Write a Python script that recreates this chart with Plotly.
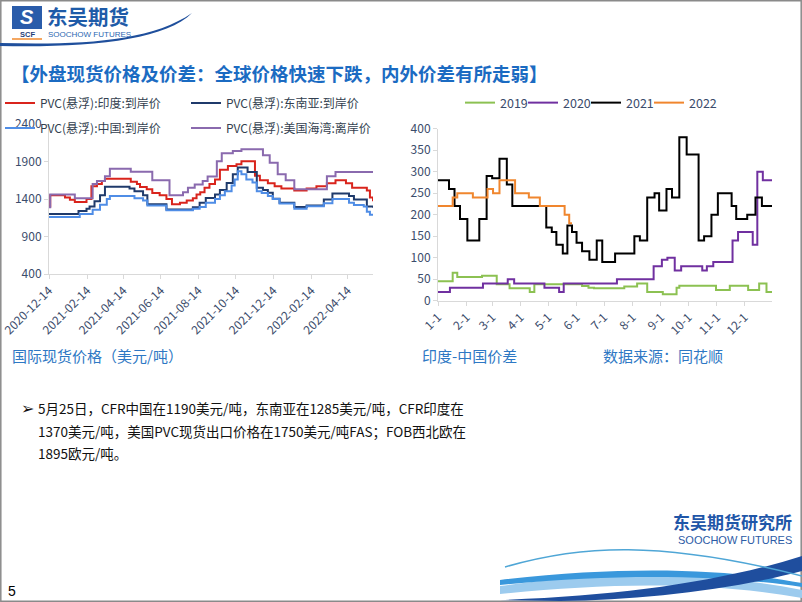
import plotly.graph_objects as go
import pandas as pd

# ---------------- left chart: international spot prices (USD/t) ----------------
india_dates = ["2020-12-14", "2020-12-16", "2021-01-09", "2021-01-17", "2021-01-25", "2021-02-13",
               "2021-02-21", "2021-03-02", "2021-03-10", "2021-03-15", "2021-04-26", "2021-05-06",
               "2021-05-11", "2021-05-22", "2021-05-31", "2021-06-12", "2021-06-23", "2021-07-02",
               "2021-07-15", "2021-07-26", "2021-08-05", "2021-08-11", "2021-08-17", "2021-08-24",
               "2021-09-01", "2021-09-10", "2021-09-18", "2021-10-01", "2021-10-15", "2021-10-23",
               "2021-11-14", "2021-11-22", "2021-12-05", "2021-12-16", "2021-12-27", "2022-01-17",
               "2022-02-06", "2022-02-22", "2022-03-11", "2022-03-25", "2022-04-11", "2022-04-21",
               "2022-05-15", "2022-05-20", "2022-05-25"]
india_vals = [1300, 1450, 1420, 1390, 1360, 1400, 1570, 1600, 1640, 1670, 1630, 1600, 1560, 1530,
              1480, 1450, 1400, 1330, 1350, 1380, 1410, 1460, 1490, 1550, 1600, 1660, 1790, 1840,
              1865, 1905, 1710, 1650, 1610, 1570, 1540, 1515, 1540, 1570, 1610, 1650, 1610, 1550,
              1515, 1420, 1370]

sea_dates = ["2020-12-14", "2021-01-31", "2021-02-13", "2021-02-18", "2021-02-26", "2021-03-07",
             "2021-03-15", "2021-04-24", "2021-05-02", "2021-05-16", "2021-05-23", "2021-06-23",
             "2021-08-05", "2021-08-16", "2021-08-26", "2021-09-10", "2021-09-18", "2021-09-29",
             "2021-10-09", "2021-10-17", "2021-11-02", "2021-11-17", "2021-11-27", "2021-12-05",
             "2021-12-13", "2021-12-24", "2022-01-17", "2022-02-06", "2022-03-06", "2022-03-20",
             "2022-04-16", "2022-04-24", "2022-05-15", "2022-05-25"]
sea_vals = [1200, 1240, 1270, 1300, 1370, 1450, 1565, 1540, 1505, 1450, 1330, 1260, 1290, 1350,
            1415, 1460, 1520, 1615, 1730, 1820, 1760, 1550, 1520, 1485, 1405, 1350, 1295, 1315,
            1395, 1475, 1440, 1395, 1300, 1285]

china_dates = ["2020-12-14", "2021-02-02", "2021-02-23", "2021-03-07", "2021-03-18", "2021-03-23",
               "2021-05-02", "2021-05-16", "2021-05-23", "2021-06-23", "2021-08-05", "2021-08-16",
               "2021-08-26", "2021-09-10", "2021-09-18", "2021-09-26", "2021-10-07", "2021-10-12",
               "2021-10-17", "2021-10-23", "2021-10-31", "2021-11-10", "2021-11-17", "2021-11-25",
               "2021-12-05", "2021-12-13", "2021-12-24", "2022-01-17", "2022-02-06", "2022-03-06",
               "2022-03-20", "2022-04-16", "2022-04-24", "2022-05-10", "2022-05-15", "2022-05-20",
               "2022-05-25"]
china_vals = [1160, 1200, 1255, 1325, 1400, 1440, 1410, 1380, 1315, 1250, 1270, 1295, 1350, 1400,
              1450, 1505, 1580, 1660, 1770, 1730, 1660, 1620, 1505, 1480, 1440, 1400, 1340, 1270,
              1305, 1345, 1400, 1350, 1320, 1300, 1230, 1190, 1190]

us_dates = ["2020-12-14", "2020-12-16", "2021-01-25", "2021-02-23", "2021-03-02", "2021-03-15",
            "2021-03-23", "2021-04-26", "2021-05-31", "2021-06-28", "2021-07-20", "2021-07-28",
            "2021-08-08", "2021-08-21", "2021-08-29", "2021-09-13", "2021-09-21", "2021-10-09",
            "2021-10-23", "2021-11-27", "2021-12-08", "2021-12-21", "2022-01-03", "2022-01-17",
            "2022-03-11", "2022-03-25", "2022-05-25"]
us_vals = [1290, 1460, 1410, 1600, 1640, 1705, 1805, 1765, 1650, 1450, 1490, 1550, 1595, 1640,
           1700, 1905, 2010, 2040, 2065, 1985, 1885, 1730, 1650, 1530, 1705, 1760, 1755]

left_names = ["PVC(悬浮):印度:到岸价", "PVC(悬浮):东南亚:到岸价",
              "PVC(悬浮):中国:到岸价", "PVC(悬浮):美国海湾:离岸价"]
left_ticks = ["2020-12-14", "2021-02-14", "2021-04-14", "2021-06-14", "2021-08-14",
              "2021-10-14", "2021-12-14", "2022-02-14", "2022-04-14"]
left_yticks = [400, 900, 1400, 1900, 2400]

# ---------------- right chart: India - China spread by year (month-day) ----------------
y2019_md = ["01-01", "01-17", "01-22", "02-18", "03-06", "03-20", "04-11", "04-16", "06-07",
            "06-14", "06-20", "07-23", "08-06", "08-17", "09-03", "09-18", "09-21", "10-31",
            "11-15", "12-05", "12-17", "12-25", "12-31"]
y2019_vals = [45, 65, 55, 58, 38, 29, 20, 38, 34, 30, 29, 33, 40, 20, 15, 30, 35, 25, 35, 25, 40, 20, 20]

y2020_md = ["01-01", "01-14", "02-19", "03-18", "03-25", "04-27", "05-13", "05-18", "07-15",
            "08-24", "09-02", "09-08", "09-16", "09-23", "10-16", "10-21", "10-28", "11-18",
            "11-24", "12-10", "12-15", "12-21", "12-31"]
y2020_vals = [20, 30, 40, 50, 40, 30, 20, 40, 50, 80, 95, 100, 70, 80, 70, 80, 90, 140, 160, 130,
              300, 280, 280]

y2021_md = ["01-01", "01-13", "01-19", "01-25", "02-02", "02-15", "02-23", "03-01", "03-09",
            "03-17", "03-23", "04-29", "05-05", "05-10", "05-17", "05-22", "05-27", "06-01",
            "06-07", "06-15", "06-23", "06-29", "07-13", "08-03", "08-09", "08-17", "08-25",
            "08-30", "09-07", "09-13", "09-21", "09-29", "10-12", "10-18", "10-26", "11-02",
            "11-17", "11-22", "12-04", "12-13", "12-20", "12-31"]
y2021_vals = [280, 260, 220, 190, 140, 190, 290, 285, 330, 270, 220, 170, 160, 130, 110, 175, 160,
              135, 115, 95, 140, 90, 110, 150, 140, 240, 250, 210, 260, 240, 380, 340, 140, 150,
              200, 250, 220, 190, 200, 240, 220, 220]

y2022_md = ["01-01", "01-17", "01-22", "02-08", "02-24", "03-02", "03-09", "03-26", "04-10",
            "04-22", "05-19", "05-24", "05-27"]
y2022_vals = [220, 240, 250, 240, 260, 250, 280, 250, 240, 220, 200, 180, 180]

right_years = ["2019", "2020", "2021", "2022"]
right_months = list(range(1, 13))
right_yticks = [0, 50, 100, 150, 200, 250, 300, 350, 400]

# ---------------- styles / layout helpers ----------------
W, H = 802, 602


def fx(p):
    return p / W


def fy(p):
    return 1 - p / H


def ppath(s):
    out = []
    for tok in s.split():
        if "," in tok:
            a, b = tok.split(",")
            out.append(f"{float(a) / W:.5f},{1 - float(b) / H:.5f}")
        else:
            out.append(tok)
    return " ".join(out)


CJK = "Noto Sans CJK SC"
TICK = dict(family=CJK, size=12, color="#3B4C6B")
left_colors = ["#D9241C", "#1F3A6B", "#4F8DE6", "#8A6AAE"]
right_colors = ["#8CC152", "#7030A0", "#000000", "#F0862E"]

fig = go.Figure()

left_series = [(india_dates, india_vals), (sea_dates, sea_vals),
               (china_dates, china_vals), (us_dates, us_vals)]
left_legends = ["legend", "legend", "legend2", "legend2"]
for (d, v), name, col, lg in zip(left_series, left_names, left_colors, left_legends):
    fig.add_trace(go.Scatter(x=pd.to_datetime(d), y=v, name=name, mode="lines",
                             line=dict(color=col, width=2, shape="hv"),
                             xaxis="x", yaxis="y", legend=lg))

right_series = [(y2019_md, y2019_vals), (y2020_md, y2020_vals),
                (y2021_md, y2021_vals), (y2022_md, y2022_vals)]
for (md, v), name, col in zip(right_series, right_years, right_colors):
    fig.add_trace(go.Scatter(x=pd.to_datetime(["2021-" + m for m in md]), y=v, name=name,
                             mode="lines", line=dict(color=col, width=2, shape="hv"),
                             xaxis="x2", yaxis="y2", legend="legend3",
                             legendwidth=40 if name == "2022" else 18))

axis_common = dict(showgrid=False, zeroline=False, showline=True, linecolor="#D9D9D9",
                   linewidth=1, ticks="outside", ticklen=4, tickcolor="#D9D9D9",
                   tickfont=TICK, automargin=False, ticklabeloverflow="allow")

legend_common = dict(orientation="h", xanchor="left", yanchor="middle",
                     entrywidthmode="pixels", bgcolor="rgba(0,0,0,0)",
                     xref="container", yref="container", traceorder="normal")

fig.update_layout(
    width=W, height=H, autosize=False,
    margin=dict(l=0, r=0, t=0, b=0, autoexpand=False),
    paper_bgcolor="white", plot_bgcolor="white",
    showlegend=True,
    xaxis=dict(domain=[fx(49), fx(373)], type="date",
               range=["2020-12-14", "2022-05-25"],
               tickvals=pd.to_datetime(left_ticks), ticktext=left_ticks,
               tickangle=-45, anchor="y", **axis_common),
    yaxis=dict(domain=[fy(274), fy(124)], range=[400, 2400], tickvals=left_yticks,
               anchor="x", **axis_common),
    xaxis2=dict(domain=[fx(438), fx(772)], type="date",
                range=["2021-01-01", "2021-12-31"],
                tickvals=pd.to_datetime([f"2021-{m:02d}-01" for m in right_months]),
                ticktext=[f"{m}-1" for m in right_months],
                tickangle=-45, anchor="y2", **axis_common),
    yaxis2=dict(domain=[fy(300.7), fy(128.7)], range=[0, 400], tickvals=right_yticks,
                anchor="x2", **axis_common),
    legend=dict(x=fx(-4), y=fy(103), entrywidth=141,
                font=dict(family=CJK, size=12, color="#333F50"), **legend_common),
    legend2=dict(x=fx(-4), y=fy(128), entrywidth=141,
                 font=dict(family=CJK, size=12, color="#333F50"), **legend_common),
    legend3=dict(x=fx(460), y=fy(103),
                 font=dict(family=CJK, size=12.5, color="#3B4C6B"), **legend_common),
)

# ---------------- text annotations ----------------
ann = []


def text(x, y, s, size, color, anchor="left", bold=False, family=CJK, yanchor="middle"):
    ann.append(dict(x=fx(x), y=fy(y), xref="paper", yref="paper", text=s, showarrow=False,
                    xanchor=anchor, yanchor=yanchor, borderpad=0,
                    font=dict(family=family, size=size, color=color,
                              weight="bold" if bold else "normal")))


text(10, 73, "【外盘现货价格及价差：全球价格快速下跌，内外价差有所走弱】", 18.5, "#1B6BC2", bold=True)
text(11, 355, "国际现货价格（美元/吨）", 15, "#2E78C4")
text(421, 355, "印度-中国价差", 15, "#2E78C4")
text(602, 355, "数据来源：同花顺", 15, "#2E78C4")

text(20, 408, "➢", 16, "#111111", family="DejaVu Sans")
body = ["5月25日，CFR中国在1190美元/吨，东南亚在1285美元/吨，CFR印度在",
        "1370美元/吨，美国PVC现货出口价格在1750美元/吨FAS；FOB西北欧在",
        "1895欧元/吨。"]
for i, line in enumerate(body):
    text(37, 408 + i * 22.5, line, 13.5, "#111111")

# logos
text(46, 16, "东吴期货", 20.5, "#1E5BA8", bold=True)
text(47, 35, "SOOCHOW FUTURES", 8, "#2A67B1", family="Liberation Sans")
text(27, 17, "<i>S</i>", 20, "white", anchor="center", bold=True, family="Liberation Sans")
text(27, 34, "SCF", 7.5, "#1F3F7A", anchor="center", bold=True, family="Liberation Sans")
text(672, 521, "东吴期货研究所", 17, "#1F56A8", bold=True)
text(677, 540, "SOOCHOW FUTURES", 11, "#2C5BA6", family="Liberation Sans")
text(7, 591, "5", 14, "#000000", family="Liberation Sans")

fig.update_layout(annotations=ann)

# ---------------- decorative shapes ----------------
shapes = [
    # slide border
    dict(type="rect", xref="paper", yref="paper", x0=fx(0.8), x1=fx(801.2), y0=fy(601.2),
         y1=fy(0.8), line=dict(color="#8A8A8A", width=1.5), layer="above"),
    # header swoosh
    dict(type="path", xref="paper", yref="paper",
         path=ppath("M 0,43 C 80,45 150,42 192,13 C 165,40 90,48 0,46 Z"),
         fillcolor="#1F4F9C", line=dict(width=0)),
    # logo emblem
    dict(type="rect", xref="paper", yref="paper", x0=fx(12), x1=fx(42), y0=fy(29), y1=fy(6),
         fillcolor="#2A5CAA", line=dict(width=0), layer="below"),
    dict(type="line", xref="paper", yref="paper", x0=fx(12), x1=fx(42), y0=fy(39), y1=fy(39),
         line=dict(color="#F08A2E", width=1.5)),
    # footer swooshes
    dict(type="path", xref="paper", yref="paper",
         path=ppath("M 500,586 C 600,572 700,570 802,590 L 802,598 C 700,580 600,584 500,594 Z"),
         fillcolor="#9CCBEE", line=dict(width=0)),
    dict(type="path", xref="paper", yref="paper",
         path=ppath("M 500,580 C 620,566 720,568 802,583 L 802,587 C 720,575 620,573 500,585 Z"),
         fillcolor="#3A98DC", line=dict(width=0)),
    dict(type="path", xref="paper", yref="paper",
         path=ppath("M 500,600 C 620,596 720,582 802,556 L 802,571 C 730,590 640,600 560,601 Z"),
         fillcolor="#1F4E9E", line=dict(width=0)),
    dict(type="path", xref="paper", yref="paper",
         path=ppath("M 505,567 C 580,545 660,540 802,576"),
         line=dict(color="#4FA6D6", width=1.5)),
]
fig.update_layout(shapes=shapes)

fig.write_html("out.html")
